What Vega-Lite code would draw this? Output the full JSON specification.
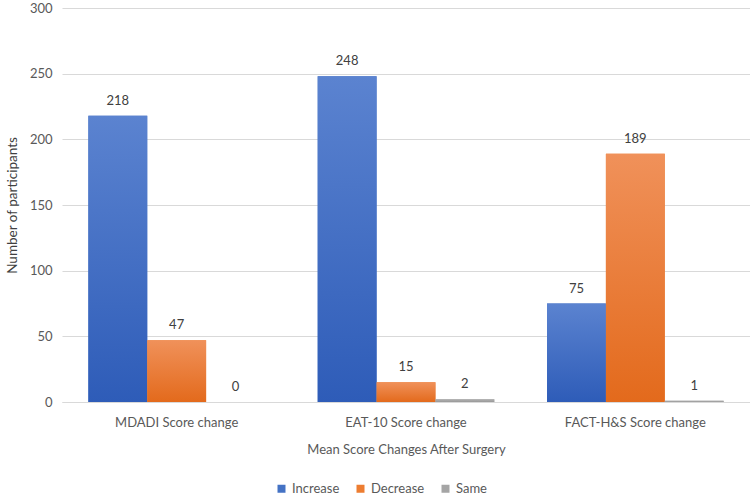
{
  "$schema": "https://vega.github.io/schema/vega-lite/v6.json",
  "width": 688,
  "height": 394,
  "padding": {"left": 5, "top": 2, "right": 0, "bottom": 0},
  "config": {"view": {"stroke": null}, "font": "Lato"},
  "data": {
    "values": [
      {"measure": "MDADI Score change", "change": "Increase", "count": 218},
      {"measure": "MDADI Score change", "change": "Decrease", "count": 47},
      {"measure": "MDADI Score change", "change": "Same", "count": 0},
      {"measure": "EAT-10 Score change", "change": "Increase", "count": 248},
      {"measure": "EAT-10 Score change", "change": "Decrease", "count": 15},
      {"measure": "EAT-10 Score change", "change": "Same", "count": 2},
      {"measure": "FACT-H&S Score change", "change": "Increase", "count": 75},
      {"measure": "FACT-H&S Score change", "change": "Decrease", "count": 189},
      {"measure": "FACT-H&S Score change", "change": "Same", "count": 1}
    ]
  },
  "encoding": {
    "x": {
      "field": "measure",
      "type": "nominal",
      "sort": ["MDADI Score change", "EAT-10 Score change", "FACT-H&S Score change"],
      "scale": {"paddingInner": 0.23, "paddingOuter": 0.115},
      "axis": {
        "title": "Mean Score Changes After Surgery",
        "labelAngle": 0,
        "ticks": false,
        "domainColor": "#D9D9D9",
        "labelColor": "#595959",
        "labelFontSize": 13,
        "labelPadding": 14,
        "titleFontSize": 13,
        "titleFontWeight": "normal",
        "titleColor": "#595959",
        "titlePadding": 14
      }
    },
    "xOffset": {
      "field": "change",
      "type": "nominal",
      "sort": ["Increase", "Decrease", "Same"],
      "scale": {"paddingInner": 0, "paddingOuter": 0}
    },
    "y": {
      "field": "count",
      "type": "quantitative",
      "scale": {"domain": [0, 300]},
      "axis": {
        "values": [0, 50, 100, 150, 200, 250, 300],
        "title": "Number of participants",
        "domain": false,
        "ticks": false,
        "gridColor": "#D9D9D9",
        "labelColor": "#595959",
        "labelFontSize": 13,
        "labelPadding": 10,
        "titleFontSize": 13.5,
        "titleFontWeight": "normal",
        "titleColor": "#404040",
        "titlePadding": 10
      }
    }
  },
  "layer": [
    {
      "mark": {"type": "bar"},
      "encoding": {
        "color": {
          "field": "change",
          "type": "nominal",
          "sort": ["Increase", "Decrease", "Same"],
          "scale": {
            "domain": ["Increase", "Decrease", "Same"],
            "range": ["#4472C4", "#ED7D31", "#A5A5A5"]
          },
          "legend": {
            "title": null,
            "orient": "none",
            "legendX": 213,
            "legendY": 474,
            "direction": "horizontal",
            "symbolType": "square",
            "symbolSize": 64,
            "symbolStrokeWidth": 0,
            "labelFontSize": 13,
            "labelColor": "#595959",
            "columnPadding": 14
          }
        }
      }
    },
    {
      "transform": [{"filter": "datum.change === 'Increase'"}],
      "mark": {"type": "bar", "color": {"gradient": "linear", "x1": 0, "y1": 0, "x2": 0, "y2": 1, "stops": [{"offset": 0, "color": "#5B83D0"}, {"offset": 1, "color": "#2E5CB8"}]}}
    },
    {
      "transform": [{"filter": "datum.change === 'Decrease'"}],
      "mark": {"type": "bar", "color": {"gradient": "linear", "x1": 0, "y1": 0, "x2": 0, "y2": 1, "stops": [{"offset": 0, "color": "#F0915A"}, {"offset": 1, "color": "#E36A1C"}]}}
    },
    {
      "transform": [{"filter": "datum.change === 'Same'"}],
      "mark": {"type": "bar", "color": {"gradient": "linear", "x1": 0, "y1": 0, "x2": 0, "y2": 1, "stops": [{"offset": 0, "color": "#B0B0B0"}, {"offset": 1, "color": "#999999"}]}}
    },
    {
      "mark": {"type": "text", "dy": -15, "fontSize": 13, "color": "#404040"},
      "encoding": {"text": {"field": "count", "type": "quantitative"}}
    }
  ]
}
